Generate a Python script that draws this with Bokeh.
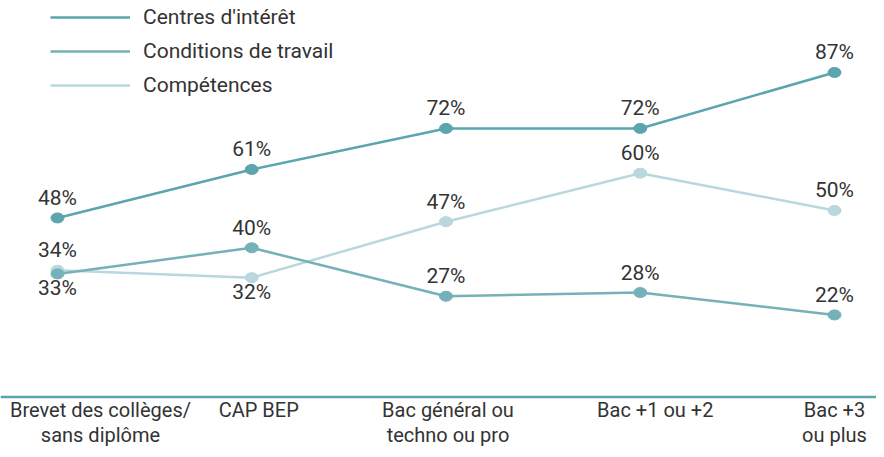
from bokeh.plotting import figure
from bokeh.models import Range1d, Span, Legend, LegendItem, ColumnDataSource
from bokeh.core.properties import value
from bokeh.embed import file_html
from bokeh.resources import INLINE

categories = ["Brevet des collèges/ sans diplôme", "CAP BEP", "Bac général ou techno ou pro",
              "Bac +1 ou +2", "Bac +3 ou plus"]
tick_line1 = ["Brevet des collèges/", "CAP BEP", "Bac général ou", "Bac +1 ou +2", "Bac +3"]
tick_line2 = ["sans diplôme", "", "techno ou pro", "", "ou plus"]

series_names = ["Centres d'intérêt", "Conditions de travail", "Compétences"]
centres = [48, 61, 72, 72, 87]
conditions = [33, 40, 27, 28, 22]
competences = [34, 32, 47, 60, 50]

colors = {"Centres d'intérêt": "#5aa5ae", "Conditions de travail": "#74b1b9", "Compétences": "#b9d7dd"}
label_below = {"Centres d'intérêt": [False] * 5,
               "Conditions de travail": [True, False, False, False, False],
               "Compétences": [False, True, False, False, False]}

FONT = "Roboto"
TXT = "#333333"

xs = list(range(len(categories)))

p = figure(width=876, height=449, output_backend="svg", toolbar_location=None,
           x_range=Range1d(-0.2934, 4.2162), y_range=Range1d(-14.08, 106.3),
           x_axis_location=None, y_axis_location=None, min_border=0)
p.outline_line_color = None
p.xgrid.visible = False
p.ygrid.visible = False
p.background_fill_color = "white"

# axis line
p.add_layout(Span(location=0, dimension="width", line_color="#5aa5ae", line_width=2.5))

data = {"Centres d'intérêt": centres, "Conditions de travail": conditions, "Compétences": competences}
renderers = {}
for name in ["Compétences", "Conditions de travail", "Centres d'intérêt"]:
    vals = data[name]
    c = colors[name]
    r = p.line(xs, vals, line_color=c, line_width=2.5)
    renderers[name] = r
    p.ellipse(xs, vals, width=13, height=10, width_units="screen", height_units="screen",
              fill_color=c, line_color=c)

for name in series_names:
    vals = data[name]
    below = label_below[name]
    src = ColumnDataSource(dict(x=xs, y=vals, t=[f"{v}%" for v in vals],
                                off=[14 if b else -20 for b in below]))
    p.text(x="x", y="y", text="t", y_offset="off", source=src, text_align="center",
           text_baseline="alphabetic", text_font=value(FONT), text_font_size="21px", text_color=TXT)

# category labels
tick_off = [43, 7, 2, 15, 0]
src1 = ColumnDataSource(dict(x=xs, y=[0] * 5, t=tick_line1, xo=tick_off))
src2 = ColumnDataSource(dict(x=xs, y=[0] * 5, t=tick_line2, xo=tick_off))
p.text(x="x", y="y", text="t", x_offset="xo", y_offset=13, source=src1, text_align="center",
       text_baseline="alphabetic", text_font=value(FONT), text_font_size="20px", text_color=TXT)
p.text(x="x", y="y", text="t", x_offset="xo", y_offset=38, source=src2, text_align="center",
       text_baseline="alphabetic", text_font=value(FONT), text_font_size="20px", text_color=TXT)

legend = Legend(items=[LegendItem(label=n, renderers=[renderers[n]]) for n in series_names],
                location=(50, 352), orientation="vertical", padding=0, margin=0, spacing=10,
                glyph_width=80, glyph_height=22, label_height=22, label_standoff=13,
                label_text_font=FONT, label_text_font_size="21px", label_text_color=TXT,
                border_line_color=None, background_fill_alpha=0)
p.add_layout(legend)

open("out.html", "w").write(file_html(p, INLINE))
